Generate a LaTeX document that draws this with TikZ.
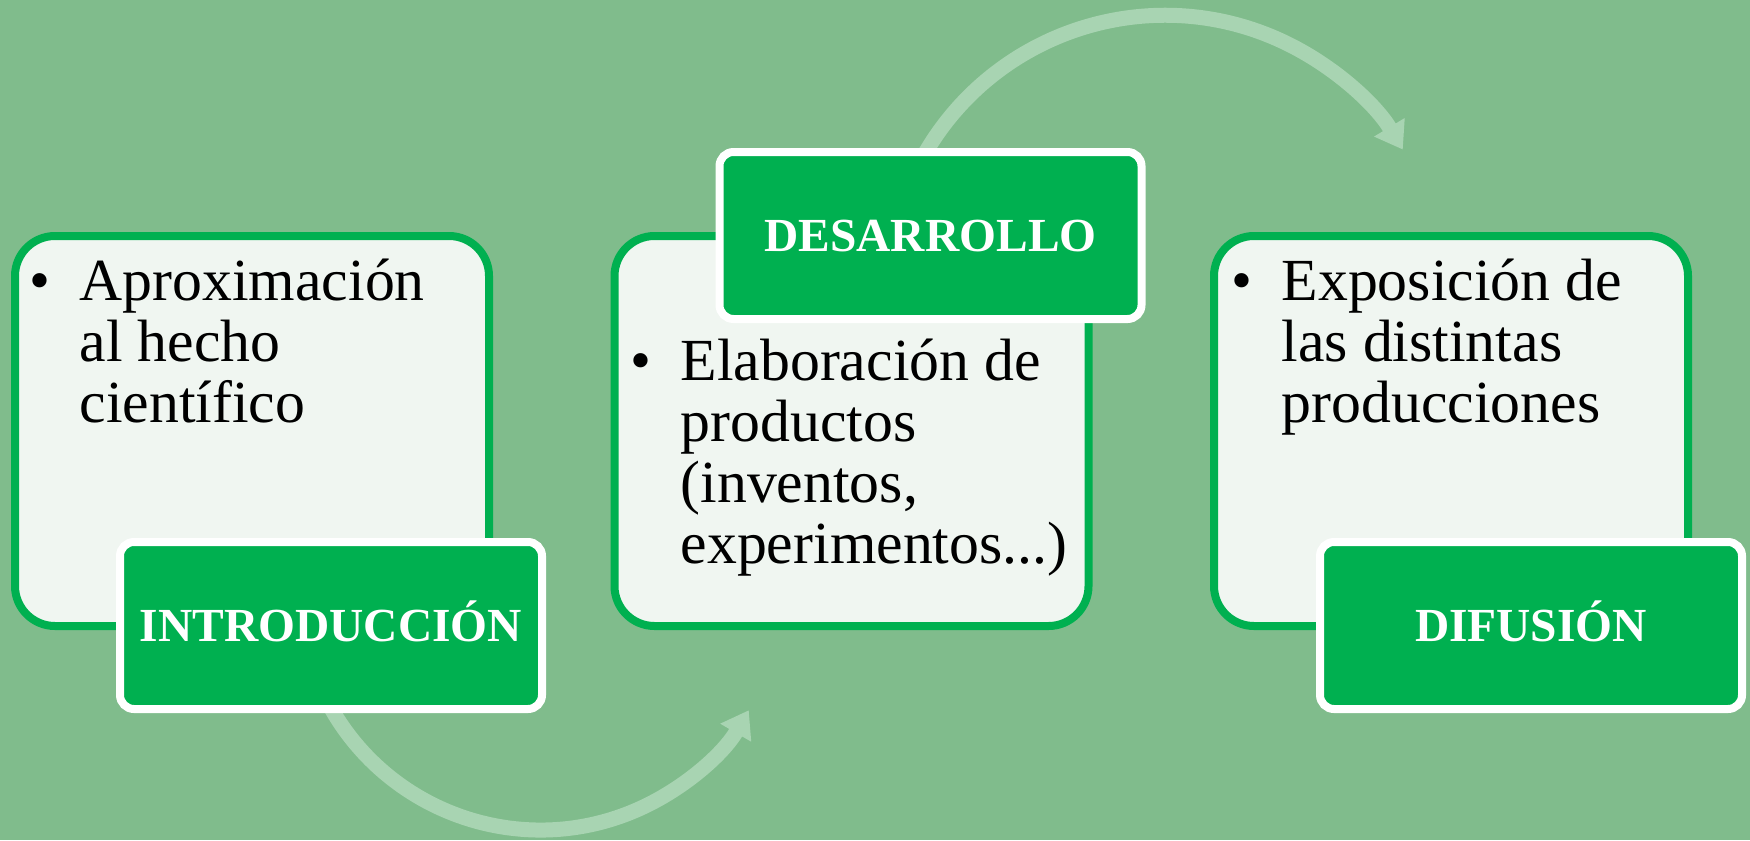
\documentclass[tikz,border=0pt]{standalone}
\usepackage{fontspec}
\setmainfont{Liberation Serif}
\usepackage{tikz}
\usetikzlibrary{arrows.meta}

\definecolor{bggreen}{RGB}{128,188,140}
\definecolor{arcgreen}{RGB}{168,212,178}
\definecolor{boxfill}{RGB}{240,246,241}
\definecolor{linegreen}{RGB}{0,176,80}

\newcommand{\bulletlist}[1]{%
	\begin{tabular}[t]{@{}p{0.50cm}@{}l@{}}#1\end{tabular}}

\begin{document}
\begin{tikzpicture}
		[scale=1, inner sep=0pt,
		stage/.style={draw=linegreen, fill=boxfill, line width=0.08cm,
			rounded corners=0.4cm, minimum width=4.74cm, minimum height=3.9cm},
		tag/.style={draw=white, fill=linegreen, line width=0.08cm,
			rounded corners=0.14cm, minimum width=4.22cm, minimum height=1.67cm,
			text=white, font=\fontsize{13.5}{16}\selectfont\bfseries,
			text height=8.9pt, text depth=0pt},
		bodytext/.style={anchor=base west, font=\fontsize{17}{17.45}\selectfont},
		loopline/.style={draw=arcgreen, line width=0.15cm,
			-{Triangle[width=0.34cm, length=0.26cm]}}]
		
		\fill[bggreen] (0, 0) rectangle (17.5, -8.4);
		\useasboundingbox (0, 0) rectangle (17.5, -8.4);
		
		% arrows behind the boxes ---------------------------------
		\coordinate (bend1) at (5.405, -5.89);
		\coordinate (bend2) at (11.65, -2.93);
		
		\draw[loopline] ([shift={(205:2.41)}]bend1)
			arc[start angle=205, end angle=329.8, radius=2.41];
		\draw[loopline] ([shift={(153:2.777)}]bend2)
			arc[start angle=153, end angle=31.1, radius=2.777];
		
		% INTRODUCCION --------------------------------------------
		\node[stage] (intro) at (2.52, -4.31) {};
		
		\node[bodytext] (introtext) at (0.29, -3.00)
			{\bulletlist{\textbullet & Aproximación\\ & al hecho\\ & científico}};
		
		\node[tag] (introtag) at (3.31, -6.255) {INTRODUCCIÓN};
		
		% DESARROLLO ----------------------------------------------
		\node[stage] (devel) at (8.515, -4.31) {};
		
		\node[bodytext] (develtext) at (6.30, -3.80)
			{\bulletlist{\textbullet & Elaboración de\\ & productos\\
				& (inventos,\\ & experimentos...)}};
		
		\node[tag] (develtag) at (9.305, -2.355) {DESARROLLO};
		
		% DIFUSION ------------------------------------------------
		\node[stage] (diffus) at (14.51, -4.31) {};
		
		\node[bodytext] (diffustext) at (12.31, -3.00)
			{\bulletlist{\textbullet & Exposición de\\ & las distintas\\ & producciones}};
		
		\node[tag] (diffustag) at (15.31, -6.255) {DIFUSIÓN};
		\end{tikzpicture}
\end{document}
